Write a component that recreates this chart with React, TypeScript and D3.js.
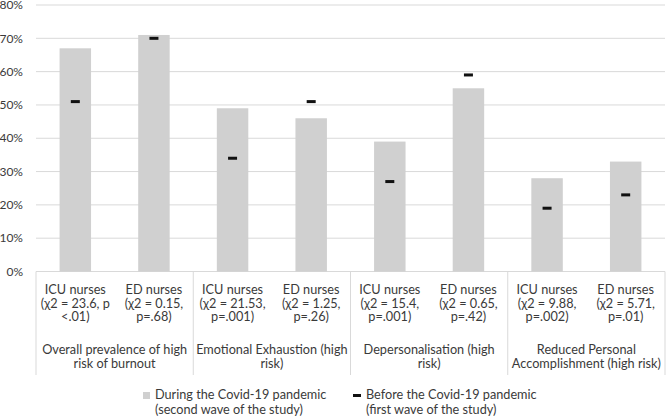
import React from "react";
import * as d3 from "d3";

const groups = [
  ["Overall prevalence of high", "risk of burnout"],
  ["Emotional Exhaustion (high", "risk)"],
  ["Depersonalisation (high", "risk)"],
  ["Reduced Personal", "Accomplishment (high risk)"],
];
const subLabels = [
  ["ICU nurses", "(χ2 = 23.6, p", "<.01)"],
  ["ED nurses", "(χ2 = 0.15,", "p=.68)"],
  ["ICU nurses", "(χ2 = 21.53,", "p=.001)"],
  ["ED nurses", "(χ2 = 1.25,", "p=.26)"],
  ["ICU nurses", "(χ2 = 15.4,", "p=.001)"],
  ["ED nurses", "(χ2 = 0.65,", "p=.42)"],
  ["ICU nurses", "(χ2 = 9.88,", "p=.002)"],
  ["ED nurses", "(χ2 = 5.71,", "p=.01)"],
];
const during = [0.67, 0.71, 0.49, 0.46, 0.39, 0.55, 0.28, 0.33];
const before = [0.51, 0.70, 0.34, 0.51, 0.27, 0.59, 0.19, 0.23];
const yTicks = [0, 0.1, 0.2, 0.3, 0.4, 0.5, 0.6, 0.7, 0.8];
const legendDuring = ["During the Covid-19 pandemic", "(second wave of the study)"];
const legendBefore = ["Before the Covid-19 pandemic", "(first wave of the study)"];

const W = 666, H = 419;
const left = 36, right = 665, top = 5, bottom = 271.5;
const font = "Lato, 'Open Sans', sans-serif";
const textColor = "#3a3a3a";
const fs = 12.7;

export default function App() {
  const idx = d3.range(during.length);
  const x = d3.scaleBand<number>().domain(idx).range([left, right]).padding(0);
  const y = d3.scaleLinear().domain([0, 0.8]).range([bottom, top]);
  const gx = d3.scaleBand<number>().domain(d3.range(groups.length)).range([left, right]).padding(0);
  const bw = x.bandwidth() / 2.5;
  const fmt = d3.format(".0%");
  return (
    <svg width={W} height={H} style={{ position: "absolute", left: 0, top: 0, fontFamily: font }}>
      <rect width={W} height={H} fill="#fff" />
      {yTicks.map((t) => (
        <g key={t}>
          <line x1={left} x2={right} y1={y(t)} y2={y(t)} stroke="#d9d9d9" strokeWidth={1} />
          <text x={23} y={y(t)} dy="0.35em" textAnchor="end" fontSize={12} fill={textColor}>
            {fmt(t)}
          </text>
        </g>
      ))}
      {idx.map((i) => (
        <rect key={"b" + i} x={x(i)! + (x.bandwidth() - bw) / 2} y={y(during[i])} width={bw}
          height={bottom - y(during[i])} fill="#d0d0d0" />
      ))}
      {idx.map((i) => (
        <rect key={"d" + i} x={x(i)! + x.bandwidth() / 2 - 4.5} y={y(before[i]) - 1.5} width={9}
          height={3} fill="#111" />
      ))}
      {d3.range(groups.length + 1).map((g) => {
        const xx = g < groups.length ? gx(g)! : right;
        return <line key={"s" + g} x1={xx} x2={xx} y1={bottom} y2={375} stroke="#d9d9d9" strokeWidth={1} />;
      })}
      {idx.map((i) => (
        <text key={"l" + i} textAnchor="middle" fontSize={fs} fill={textColor}>
          {subLabels[i].map((s, k) => (
            <tspan key={k} x={x(i)! + x.bandwidth() / 2} y={290 + k * 13.3} dy="0.35em">{s}</tspan>
          ))}
        </text>
      ))}
      {groups.map((gl, g) => (
        <text key={"g" + g} textAnchor="middle" fontSize={fs} fill={textColor}>
          {gl.map((s, k) => (
            <tspan key={k} x={gx(g)! + gx.bandwidth() / 2} y={350 + k * 13.3} dy="0.35em">{s}</tspan>
          ))}
        </text>
      ))}
      <rect x={143} y={392} width={7} height={7} fill="#d0d0d0" />
      <text fontSize={fs} fill={textColor}>
        {legendDuring.map((s, k) => (
          <tspan key={k} x={155} y={395 + k * 14.3} dy="0.35em">{s}</tspan>
        ))}
      </text>
      <rect x={353} y={394} width={8} height={3} fill="#111" />
      <text fontSize={fs} fill={textColor}>
        {legendBefore.map((s, k) => (
          <tspan key={k} x={366} y={395 + k * 14.3} dy="0.35em">{s}</tspan>
        ))}
      </text>
    </svg>
  );
}
